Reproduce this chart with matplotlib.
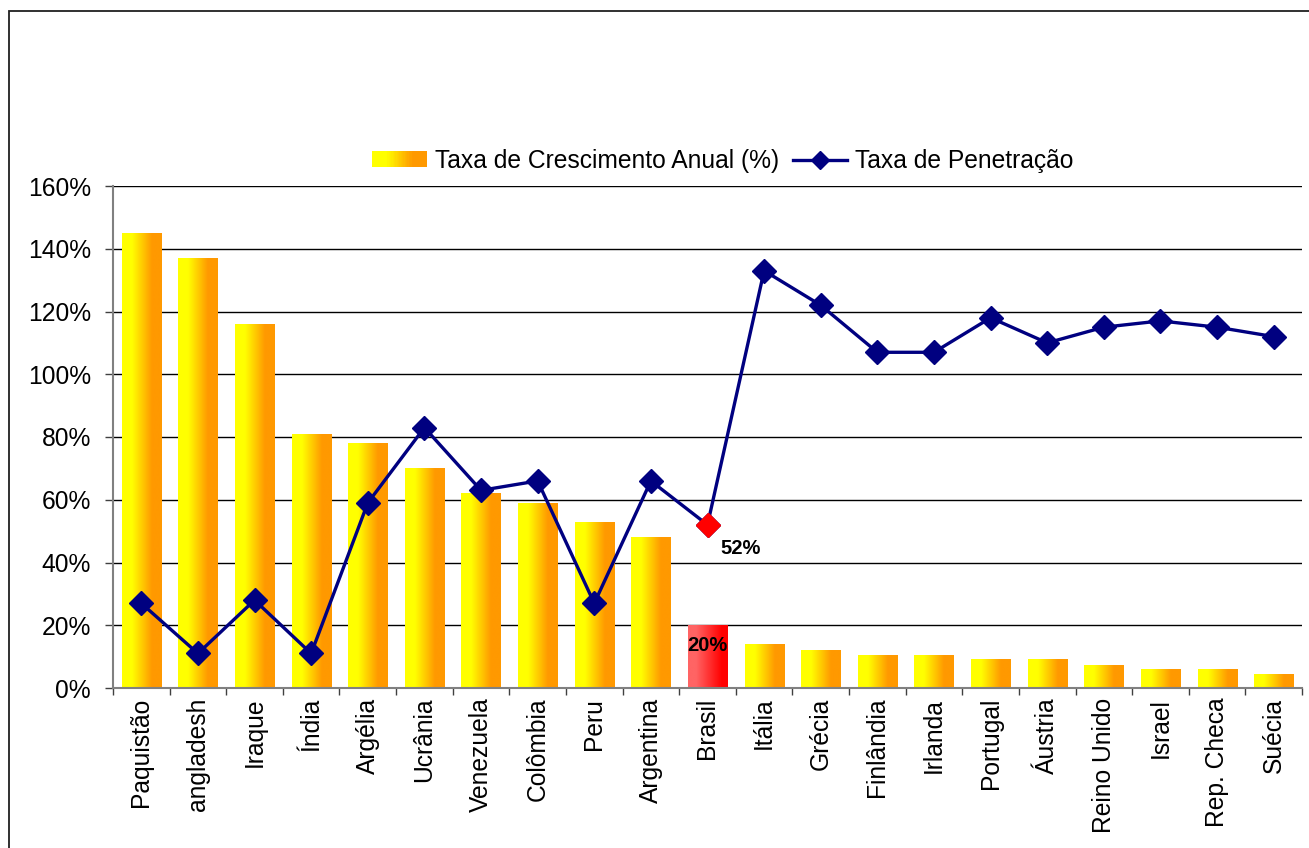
import numpy as np
import matplotlib.pyplot as plt
from matplotlib.colors import LinearSegmentedColormap
from matplotlib.patches import Rectangle
from matplotlib.lines import Line2D
from matplotlib.legend_handler import HandlerBase
from matplotlib.ticker import FuncFormatter, MultipleLocator

plt.rcParams['font.family'] = ['Liberation Sans', 'DejaVu Sans']

paises = ["Paquistão", "angladesh", "Iraque", "Índia", "Argélia", "Ucrânia",
          "Venezuela", "Colômbia", "Peru", "Argentina", "Brasil", "Itália",
          "Grécia", "Finlândia", "Irlanda", "Portugal", "Áustria",
          "Reino Unido", "Israel", "Rep. Checa", "Suécia"]

# taxa de crescimento anual (%)
crescimento = [145, 137, 116, 81, 78, 70, 62, 59, 53, 48, 20, 14,
               12, 10.5, 10.5, 9.2, 9.2, 7.3, 6, 6, 4.5]

# taxa de penetracao (%)
penetracao = [27, 11, 28, 11, 59, 83, 63, 66, 27, 66, 52, 133,
              122, 107, 107, 118, 110, 115, 117, 115, 112]

destaque = "Brasil"
fs = 17.7

amarelo = LinearSegmentedColormap.from_list(
    "amarelo", [(0, "#FFFF00"), (0.25, "#FFFF00"), (0.75, "#FF9900"), (1, "#FF9900")])
vermelho = LinearSegmentedColormap.from_list(
    "vermelho", [(0, "#FF6464"), (0.2, "#FF6464"), (0.85, "#FF0000"), (1, "#FF0000")])
gradiente = np.linspace(0, 1, 256).reshape(1, -1)


class HandlerGradiente(HandlerBase):
    def create_artists(self, legend, orig_handle, xdescent, ydescent,
                       width, height, fontsize, trans):
        artistas = []
        n = 40
        for i in range(n):
            r = Rectangle((-xdescent + width * i / n, -ydescent), width / n + 0.3, height,
                          facecolor=amarelo(i / (n - 1)), edgecolor="none",
                          transform=trans)
            artistas.append(r)
        return artistas


fig = plt.figure(figsize=(13.09, 8.48), dpi=100)
ax = fig.add_axes([113 / 1309, 160 / 848, 1189 / 1309, 502 / 848])

x = np.arange(len(paises))
barras = ax.bar(x, crescimento, width=0.69, facecolor="none", edgecolor="none", zorder=2)

# preenchimento em degrade de cada barra
for barra, pais in zip(barras, paises):
    x0 = barra.get_x()
    cmap = vermelho if pais == destaque else amarelo
    img = ax.imshow(gradiente, extent=[x0, x0 + barra.get_width(), 0, barra.get_height()],
                    cmap=cmap, aspect="auto", interpolation="bilinear", zorder=2)
    img.set_clip_path(barra)

ax.plot(x, penetracao, color="#000080", lw=2.4, marker="D", ms=12.5,
        markerfacecolor="#000080", markeredgecolor="#000080", zorder=4)

ib = paises.index(destaque)
ax.plot(x[ib], penetracao[ib], marker="D", ms=12.5, color="#FF0000", zorder=5)
ax.annotate(f"{penetracao[ib]}%", (x[ib], penetracao[ib]), xytext=(9, -10),
            textcoords="offset points", ha="left", va="top",
            fontsize=14.5, fontweight="bold", zorder=6)
ax.annotate(f"{crescimento[ib]:.0f}%", (x[ib], crescimento[ib]), xytext=(0, -8),
            textcoords="offset points", ha="center", va="top",
            fontsize=14.5, fontweight="bold", zorder=6)

ax.set_xlim(-0.5, len(paises) - 0.5)
ax.set_ylim(0, 160)
ax.yaxis.set_major_locator(MultipleLocator(20))
ax.yaxis.set_major_formatter(FuncFormatter(lambda v, p: f"{v:.0f}%"))
ax.grid(axis="y", color="black", lw=1)
ax.set_axisbelow(True)

ax.set_xticks(x)
ax.set_xticklabels(paises, rotation=90, fontsize=fs)
ax.set_xticks(np.arange(-0.5, len(paises)), minor=True)
ax.tick_params(axis="x", which="major", length=0, pad=7)
ax.tick_params(axis="x", which="minor", length=5, width=1, color="#404040")
ax.tick_params(axis="y", labelsize=fs, length=6, width=1, color="#404040", pad=10)

for lado in ["top", "right"]:
    ax.spines[lado].set_visible(False)
for lado in ["left", "bottom"]:
    ax.spines[lado].set_color("#808080")
    ax.spines[lado].set_linewidth(1.5)

h_barra = Rectangle((0, 0), 1, 1)
h_linha = Line2D([], [], color="#000080", lw=2.4, marker="D", ms=9.5)
fig.legend([h_barra, h_linha], ["Taxa de Crescimento Anual (%)", "Taxa de Penetração"],
           handler_map={Rectangle: HandlerGradiente()}, ncol=2, frameon=False,
           loc="center", bbox_to_anchor=(723 / 1309, 1 - 161 / 848), fontsize=fs,
           handlelength=2.2, handleheight=0.62, handletextpad=0.35, columnspacing=0.55)

# moldura da area do grafico
fig.patches.append(Rectangle((9 / 1309, -0.05), 1.1, 1 - 11 / 848 + 0.05,
                             transform=fig.transFigure, fill=False,
                             edgecolor="#202020", lw=1.3))

fig.savefig("out.png", dpi=100)
